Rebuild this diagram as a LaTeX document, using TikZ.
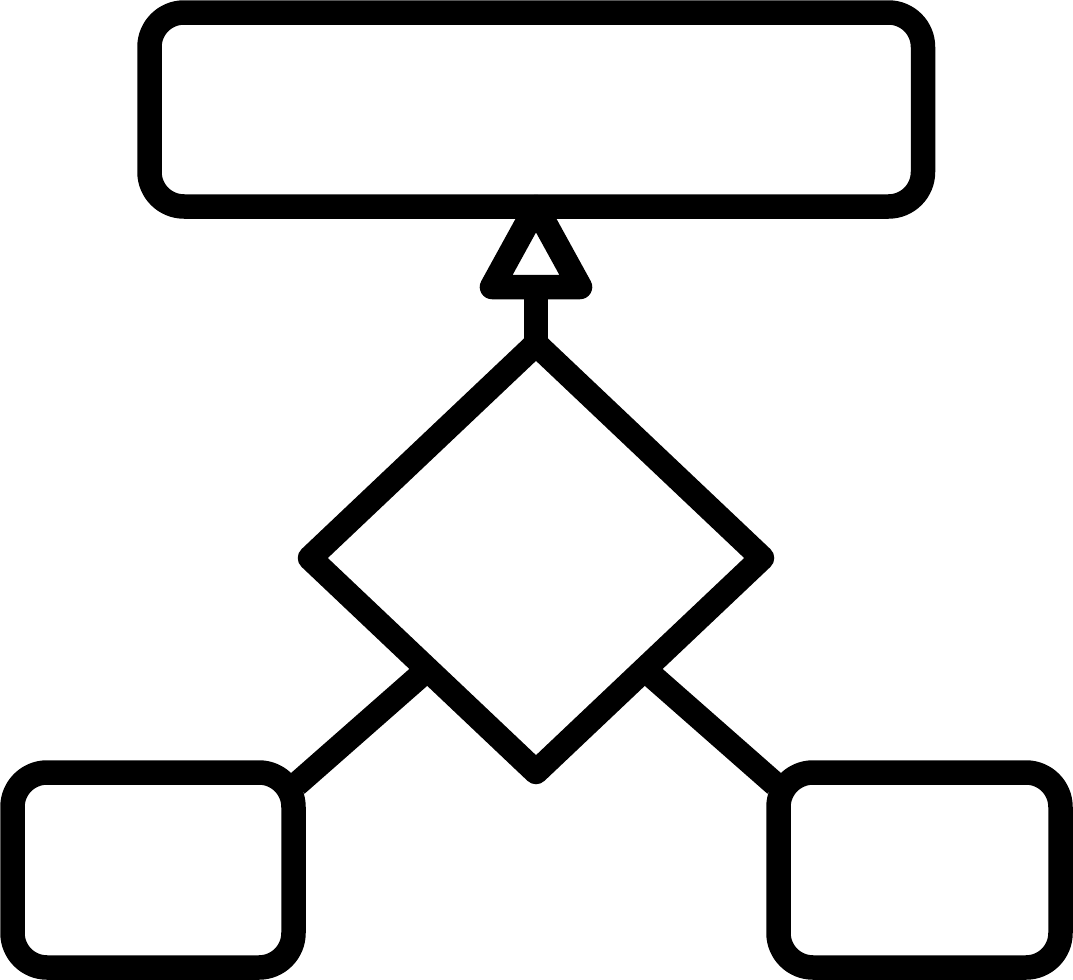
\documentclass[tikz,border=0pt]{standalone}
\usetikzlibrary{shapes.geometric,calc}
\begin{document}
\begin{tikzpicture}[x=0.5pt,y=-0.5pt,
 icon/.style={line width=12.25pt, draw=black, line join=round},
 rbox/.style={icon, rectangle, rounded corners=17.25pt, inner sep=0pt, outer sep=0pt},
 ddia/.style={icon, diamond, inner sep=0pt, outer sep=0pt, minimum width=226pt, minimum height=214pt},
 link/.style={line width=12.25pt, line cap=butt}]
\useasboundingbox (0,0) rectangle (1073,980);
\node[rbox, minimum width=386.75pt, minimum height=97pt] (top) at (536.25,109.5) {};
\node[rbox, minimum width=140.5pt, minimum height=97.5pt] (boxL) at (153,870) {};
\node[rbox, minimum width=141pt, minimum height=97.5pt] (boxR) at (919.5,870) {};
\node[ddia] (dia) at (536,558) {};
\coordinate (tA) at (536,207);
\coordinate (tL) at (492,287);
\coordinate (tR) at (580,287);
\coordinate (tB) at (536,287);
\draw[icon] (tA) -- (tL) -- (tR) -- cycle;
\draw[link] (dia.north) -- (tB);
\draw[link] ($(dia.west)!0.52!(dia.south)$) -- ($(boxL.north east)+(3,12)$);
\draw[link] ($(dia.east)!0.52!(dia.south)$) -- ($(boxR.north west)+(-3,12)$);
\end{tikzpicture}
\end{document}
